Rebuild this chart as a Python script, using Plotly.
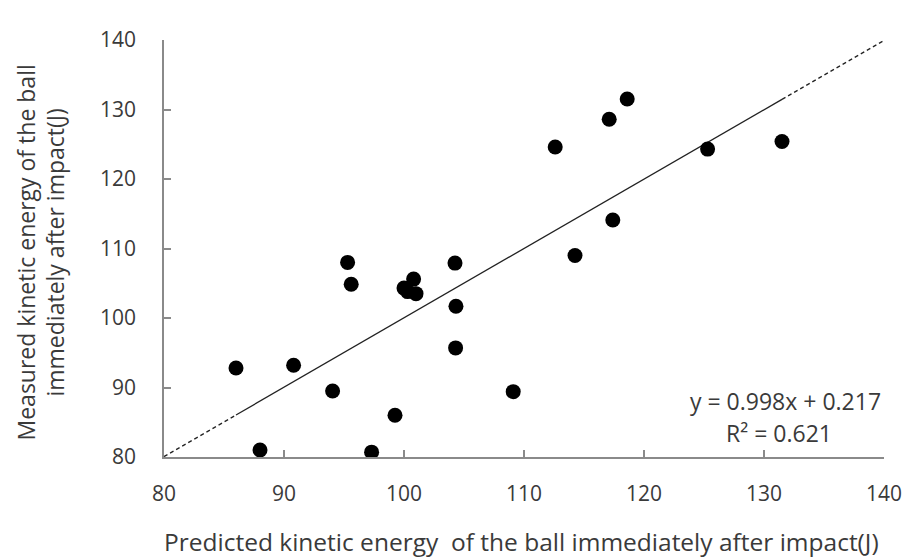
import plotly.graph_objects as go

# Data
predicted = [86.0, 88.0, 90.8, 94.05, 95.3, 95.6, 97.3, 99.25, 100.0, 100.3, 100.8, 101.0,
             104.25, 104.33, 104.3, 109.1, 112.6, 114.25, 117.1, 117.4, 118.6, 125.3, 131.5]
measured = [92.8, 81.0, 93.2, 89.5, 108.0, 104.85, 80.7, 86.0, 104.3, 103.8, 105.6, 103.5,
            107.9, 101.7, 95.7, 89.4, 124.6, 109.0, 128.6, 114.1, 131.5, 124.3, 125.4]

slope = 0.998
intercept = 0.217
r_squared = 0.621
axis_min, axis_max = 80, 140
tick_vals = [80, 90, 100, 110, 120, 130, 140]

text_color = "#3a3a3a"
font_family = "Open Sans, Lato, sans-serif"

fig = go.Figure()

x_lo, x_hi = min(predicted), max(predicted)

def fit(v):
    return slope * v + intercept

# dashed extensions of the trendline (forecast)
for xs in ([axis_min, x_lo], [x_hi, axis_max]):
    fig.add_trace(go.Scatter(x=xs, y=[fit(v) for v in xs], mode="lines",
                             line=dict(color="#222222", width=1.3, dash="4px,3px"),
                             hoverinfo="skip", showlegend=False))
# solid trendline over data range
fig.add_trace(go.Scatter(x=[x_lo, x_hi], y=[fit(x_lo), fit(x_hi)], mode="lines",
                         line=dict(color="#222222", width=1.3),
                         hoverinfo="skip", showlegend=False))

fig.add_trace(go.Scatter(x=predicted, y=measured, mode="markers",
                         marker=dict(color="black", size=15),
                         showlegend=False))

axis_common = dict(
    range=[axis_min, axis_max], tickvals=tick_vals, showgrid=False, zeroline=False,
    showline=True, linecolor="#8a8a8a", linewidth=1.5, automargin=False,
    ticks="inside", ticklen=7, tickcolor="#8a8a8a", tickwidth=1.5,
    tickfont=dict(size=21, color=text_color, family=font_family),
)

fig.update_xaxes(**axis_common, ticklabelstandoff=17)
fig.update_yaxes(**axis_common, ticklabelstandoff=22)

fig.add_annotation(text="Predicted kinetic energy&nbsp;&nbsp;of the ball immediately after impact(J)",
                   xref="paper", yref="paper", x=0.5, y=0, xanchor="center", yanchor="middle",
                   yshift=-84, xshift=-3, showarrow=False,
                   font=dict(size=24.5, color=text_color, family=font_family))
fig.add_annotation(text="Measured kinetic energy of the ball<br>immediately after impact(J)",
                   xref="paper", yref="paper", x=0, y=0.5, xanchor="center", yanchor="middle",
                   xshift=-124, yshift=-4, textangle=-90, showarrow=False,
                   font=dict(size=23, color=text_color, family=font_family))

fig.add_annotation(text=f"y = {slope}x + {intercept}", xref="paper", yref="paper",
                   x=1, y=0, xanchor="right", yanchor="middle", xshift=-1, yshift=56,
                   showarrow=False,
                   font=dict(size=23, color=text_color, family=font_family))
fig.add_annotation(text=f"R² = {r_squared}", xref="paper", yref="paper",
                   x=1, y=0, xanchor="center", yanchor="middle", xshift=-105, yshift=24,
                   showarrow=False,
                   font=dict(size=23, color=text_color, family=font_family))

fig.update_layout(
    width=905, height=559,
    margin=dict(l=164, r=21, t=40, b=102),
    plot_bgcolor="white", paper_bgcolor="white",
    font=dict(family=font_family, color=text_color),
)

fig.write_html("out.html", config={"displayModeBar": False},
               post_script="document.body.style.margin='0';")
